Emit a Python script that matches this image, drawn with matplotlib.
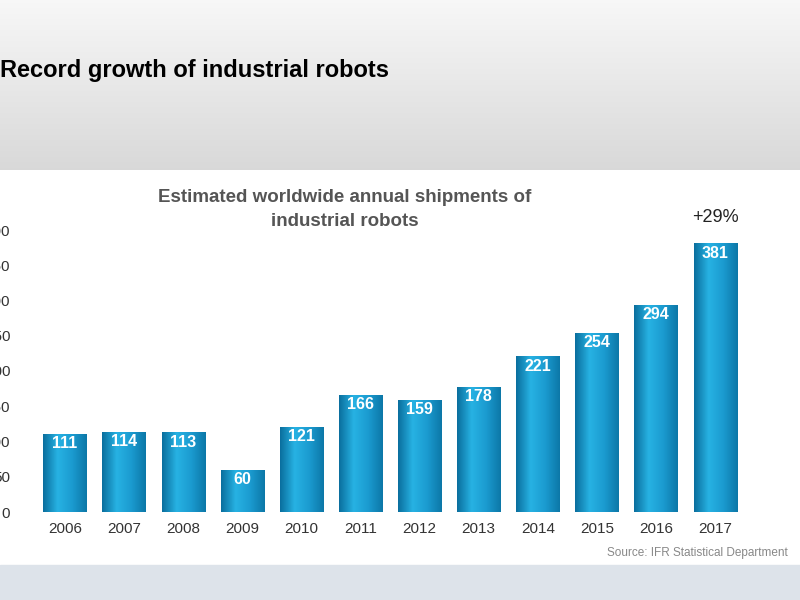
import matplotlib
matplotlib.use("Agg")
import matplotlib.pyplot as plt
import numpy as np
from matplotlib.patches import Rectangle

plt.rcParams['font.family'] = ['Liberation Sans', 'DejaVu Sans']

years = ["2006","2007","2008","2009","2010","2011","2012","2013","2014","2015","2016","2017"]
values = [111,114,113,60,121,166,159,178,221,254,294,381]
yticks = [0,50,100,150,200,250,300,350,400]

fig = plt.figure(figsize=(8,6), dpi=100)
fig.patch.set_facecolor("white")
bg = fig.add_axes([0,0,1,1], zorder=-10); bg.set_axis_off()
grad = np.linspace(0.97,0.85,100).reshape(-1,1)
bg.imshow(np.dstack([grad,grad,grad]), extent=[0,800,170,0], aspect='auto')
bg.add_patch(Rectangle((0,565),800,35,color="#dde3ea"))
bg.text(0,70,"Record growth of industrial robots",fontsize=17,fontweight='bold',va='center',ha='left',color='black')
bg.text(345,197,"Estimated worldwide annual shipments of",fontsize=13.5,fontweight='bold',color='#555555',ha='center',va='center')
bg.text(345,221,"industrial robots",fontsize=13.5,fontweight='bold',color='#555555',ha='center',va='center')
bg.text(788,553,"Source: IFR Statistical Department",fontsize=8.5,color='#888888',ha='right',va='center')
bg.set_xlim(0,800); bg.set_ylim(600,0)

ax = fig.add_axes([20/800, 1-512/600, 740/800, 282/600])
ax.set_facecolor("none")
x = np.arange(len(years))
bars = ax.bar(x, values, width=0.73, color="#1b9bd0", zorder=2)
cmap = matplotlib.colors.LinearSegmentedColormap.from_list("b",["#0a6f9e","#27b2e3","#1b9bd0","#0c78a8"])
g = np.linspace(0,1,64).reshape(1,-1)
for b in bars:
    im = ax.imshow(g, cmap=cmap, extent=[b.get_x(), b.get_x()+b.get_width(), 0, b.get_height()], aspect='auto', zorder=3)
    im.set_clip_path(b)
for xi, v in zip(x, values):
    ax.text(xi, v-14, str(v), ha='center', va='center', color='white', fontsize=11.5, fontweight='bold', zorder=5)
ax.text(x[-1], 405, "+29%", ha='center', va='bottom', fontsize=13, color='#222222')
ax.set_xlim(-0.76, 11.76); ax.set_ylim(0,400)
ax.set_xticks(x); ax.set_xticklabels(years, fontsize=11, color='#333333')
ax.set_yticks(yticks); ax.set_yticklabels([str(t) for t in yticks], fontsize=11, color='#333333')
ax.tick_params(length=0, pad=7)
for s in ax.spines.values(): s.set_visible(False)
fig.savefig("out.png", dpi=100)
